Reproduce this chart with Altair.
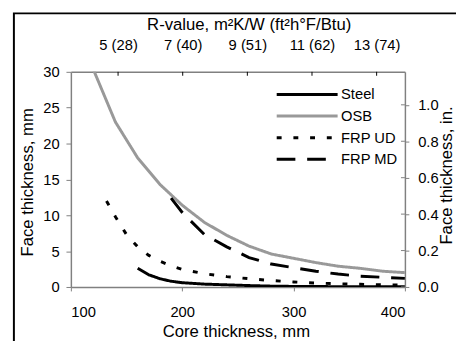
import altair as alt
import pandas as pd

# ---- data ----
series_order = ["Steel", "OSB", "FRP UD", "FRP MD"]

steel_x = [160, 170, 180, 190, 200, 220, 240, 260, 280, 300, 320, 340, 360, 380, 400]
steel_y = [2.6, 1.7, 1.15, 0.8, 0.6, 0.4, 0.3, 0.2, 0.12, 0.08, 0.06, 0.05, 0.04, 0.03, 0.03]

osb_x = [120, 140, 160, 180, 200, 220, 240, 260, 280, 300, 320, 340, 360, 380, 400]
osb_y = [30.4, 23.0, 18.0, 14.3, 11.4, 9.0, 7.2, 5.7, 4.6, 4.0, 3.4, 2.9, 2.6, 2.2, 2.0]

ud_x = [132, 140, 150, 160, 170, 180, 190, 200, 220, 240, 260, 280, 300, 320, 340, 360, 380, 400]
ud_y = [12.0, 9.8, 7.3, 5.6, 4.4, 3.6, 2.95, 2.45, 1.85, 1.45, 1.15, 0.9, 0.7, 0.55, 0.45, 0.37, 0.3, 0.25]

md_x = [190, 200, 220, 240, 260, 280, 300, 320, 340, 360, 380, 400]
md_y = [12.4, 10.4, 7.3, 5.6, 4.1, 3.2, 2.7, 2.2, 1.8, 1.5, 1.35, 1.2]

x_ticks = [100, 200, 300, 400]
y_ticks = [0, 5, 10, 15, 20, 25, 30]
inch_ticks = [0.0, 0.2, 0.4, 0.6, 0.8, 1.0]
r_ticks = [5, 7, 9, 11, 13]
r_labels = ["5 (28)", "7 (40)", "9 (51)", "11 (62)", "13 (74)"]

FONT = "Liberation Sans, Arial, sans-serif"
GRAY = "#808080"

rows = []
for name, xs, ys in [("Steel", steel_x, steel_y), ("OSB", osb_x, osb_y),
                     ("FRP UD", ud_x, ud_y), ("FRP MD", md_x, md_y)]:
    for i, (a, b) in enumerate(zip(xs, ys)):
        rows.append({"series": name, "core": a, "face": b, "order": i})
df = pd.DataFrame(rows)

legend = alt.Legend(orient="none", legendX=208, legendY=16, title=None)

lines = alt.Chart(df).mark_line(strokeWidth=3, clip=True, strokeCap="butt").encode(
    x=alt.X("core:Q", scale=alt.Scale(domain=[100, 400], nice=False),
            axis=alt.Axis(orient="bottom", values=x_ticks, title="Core thickness, mm",
                          grid=False, tickSize=4, labelPadding=14,
                          titleX=168, titleY=50, titleBaseline="alphabetic",
                          titleAlign="center")),
    y=alt.Y("face:Q", scale=alt.Scale(domain=[0, 30], nice=False),
            axis=alt.Axis(orient="left", values=y_ticks, title="Face thickness, mm",
                          grid=False, tickSize=5, labelPadding=7,
                          titleX=-39, titleY=112, titleBaseline="alphabetic",
                          titleAlign="center", titleAngle=270)),
    color=alt.Color("series:N", scale=alt.Scale(domain=series_order,
                    range=["#000000", "#999999", "#000000", "#000000"]), legend=legend),
    strokeDash=alt.StrokeDash("series:N", scale=alt.Scale(domain=series_order,
                    range=[[1, 0], [1, 0], [5, 12], [19, 12]]), legend=legend),
    order="order:O",
)

label_expr = " : ".join(
    f"datum.value == {v} ? '{l}'" for v, l in zip(r_ticks, r_labels)
) + " : ''"

top = alt.Chart(pd.DataFrame({"r": r_ticks})).mark_rule(color="#000000", strokeWidth=1).encode(
    x=alt.X("r:Q", scale=alt.Scale(domain=[3.54, 13.875], nice=False, zero=False),
            axis=alt.Axis(orient="top", values=r_ticks, labelExpr=label_expr, ticks=False,
                          grid=False, labelPadding=23, labelBaseline="alphabetic",
                          title="R-value, m²K/W (ft²h°F/Btu)",
                          titleX=181, titleY=-43, titleBaseline="alphabetic",
                          titleAlign="center")),
    y=alt.value(0),
    y2=alt.value(4),
)

right = alt.Chart(pd.DataFrame({"inch": inch_ticks})).mark_rule(color=GRAY, strokeWidth=1).encode(
    y=alt.Y("inch:Q", scale=alt.Scale(domain=[0, 30 / 25.4], nice=False),
            axis=alt.Axis(orient="right", values=inch_ticks, format=".1f", grid=False,
                          tickSize=4, labelPadding=9, title="Face thickness, in.",
                          titleX=47, titleY=105, titleBaseline="alphabetic",
                          titleAlign="center", titleAngle=270)),
    x=alt.value(336),
    x2=alt.value(340),
)

frame = alt.Chart(alt.Data(values=[{}])).mark_rect(
    filled=False, stroke="#000000", strokeWidth=2
).encode(
    x=alt.value(-58), x2=alt.value(420), y=alt.value(-59.5), y2=alt.value(300)
)

chart = alt.layer(lines, top, right, frame).resolve_scale(
    x="independent", y="independent", color="independent", strokeDash="independent"
).properties(
    width=340, height=219,
    autosize=alt.AutoSizeParams(type="none"),
    padding={"left": 64, "top": 62, "right": 52, "bottom": 52},
).configure_view(strokeWidth=0).configure_axis(
    labelFont=FONT, titleFont=FONT, labelFontSize=15, titleFontSize=17,
    titleFontWeight="normal", labelColor="#000000", titleColor="#000000",
    domainColor=GRAY, tickColor=GRAY, domainWidth=1.5,
).configure_legend(
    labelFont=FONT, labelFontSize=15, labelColor="#000000",
    symbolType="stroke", symbolSize=3844, symbolStrokeWidth=3,
    labelOffset=2, padding=0, rowPadding=7, clipHeight=14,
)

chart.save("out.html", embed_options={"renderer": "svg", "actions": False})
